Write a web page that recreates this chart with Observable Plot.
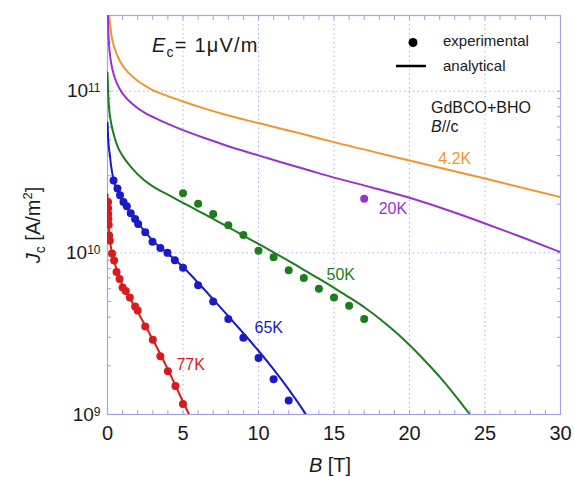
<!DOCTYPE html>
<html><head><meta charset="utf-8">
<script src="https://cdn.jsdelivr.net/npm/d3@7"></script>
<script src="https://cdn.jsdelivr.net/npm/@observablehq/plot@0.6"></script>
<style>body{margin:0;background:#fff} svg{display:block}</style>
</head><body><div id="chart"></div>
<script>
const temps = ["4.2K", "20K", "50K", "65K", "77K"];
const colors = ["#f5942a", "#9a32d2", "#1d7d1d", "#1a1ac8", "#d81c1c"];

// analytical curves (B in T, Jc in A/m^2)
const fitB_4K2 = [0, 0.1, 0.26, 0.48, 0.8, 1.15, 1.6, 2.03, 2.5, 3.13, 4, 5, 6.44, 8, 10, 13, 15, 20, 25, 30];
const fitJ_4K2 = [3.3e11, 2.98e11, 2.22e11, 1.83e11, 1.55e11, 1.38e11, 1.245e11, 1.153e11, 1.08e11, 1.0e11, 9.33e10, 8.63e10, 7.80e10, 7.08e10, 6.35e10, 5.41e10, 4.84e10, 3.73e10, 2.88e10, 2.21e10];
const fitB_20K = [0, 0.03, 0.07, 0.15, 0.26, 0.48, 0.8, 1.15, 1.6, 2.03, 2.5, 3.13, 4, 5, 6.44, 8, 10, 12, 13, 15, 17.5, 20, 22.5, 25, 27.5, 30];
const fitJ_20K = [3.1e11, 2.85e11, 2.18e11, 1.73e11, 1.46e11, 1.211e11, 1.035e11, 9.29e10, 8.41e10, 7.82e10, 7.33e10, 6.84e10, 6.28e10, 5.75e10, 5.13e10, 4.57e10, 4.01e10, 3.52e10, 3.31e10, 2.92e10, 2.54e10, 2.19e10, 1.84e10, 1.52e10, 1.245e10, 1.01e10];
const fitB_50K = [0, 0.05, 0.1, 0.15, 0.26, 0.45, 0.7, 1.0, 1.59, 2.3, 3.13, 4, 5, 6, 7, 8, 9, 10, 11, 12, 13, 14, 15, 16, 17, 18, 19, 20, 21, 22, 23, 24];
const fitJ_50K = [1.30e11, 9.55e10, 7.94e10, 7.18e10, 6.22e10, 5.25e10, 4.47e10, 3.98e10, 3.37e10, 2.88e10, 2.53e10, 2.29e10, 2.04e10, 1.82e10, 1.62e10, 1.445e10, 1.28e10, 1.135e10, 1.007e10, 8.91e9, 7.85e9, 6.92e9, 6.07e9, 5.31e9, 4.61e9, 3.93e9, 3.28e9, 2.69e9, 2.16e9, 1.71e9, 1.32e9, 1.0e9];
const fitB_65K = [0, 0.05, 0.1, 0.15, 0.25, 0.37, 0.6, 0.93, 1.3, 1.8, 2.5, 3, 4, 5, 6, 7, 8, 9, 10, 11, 12, 13, 13.15];
const fitJ_65K = [6.38e10, 5.01e10, 4.42e10, 4.07e10, 3.39e10, 2.92e10, 2.48e10, 2.14e10, 1.88e10, 1.62e10, 1.35e10, 1.19e10, 9.89e9, 8.17e9, 6.53e9, 5.16e9, 4.06e9, 3.18e9, 2.48e9, 1.90e9, 1.43e9, 1.05e9, 1.0e9];
const fitB_77K = [0, 0.03, 0.06, 0.1, 0.2, 0.3, 0.4, 0.7, 1.0, 1.5, 2, 2.5, 3, 3.5, 4, 4.5, 5, 5.4];
const fitJ_77K = [2.3e10, 1.9e10, 1.6e10, 1.35e10, 1.12e10, 1.0e10, 9.2e9, 7.4e9, 6.3e9, 5.2e9, 4.3e9, 3.55e9, 2.9e9, 2.36e9, 1.9e9, 1.51e9, 1.2e9, 1.0e9];

// experimental points
const expB_20K = [17];
const expJ_20K = [2.16e10];
const expB_50K = [5, 6, 7, 8, 9, 10, 11, 12, 13, 14, 15, 16, 17];
const expJ_50K = [2.34e10, 2.01e10, 1.74e10, 1.48e10, 1.29e10, 1.03e10, 9.4e9, 7.8e9, 7.0e9, 6.0e9, 5.3e9, 4.7e9, 3.9e9];
const expB_65K = [0.4, 0.66, 0.83, 1.06, 1.28, 1.54, 1.83, 2.03, 2.5, 2.98, 3.5, 3.97, 4.46, 5.0, 6, 7, 8, 9, 10, 11, 12];
const expJ_65K = [2.8e10, 2.5e10, 2.27e10, 2.06e10, 1.94e10, 1.76e10, 1.62e10, 1.51e10, 1.34e10, 1.17e10, 1.07e10, 1.0e10, 9.0e9, 8.1e9, 6.3e9, 5.0e9, 3.9e9, 2.98e9, 2.24e9, 1.65e9, 1.22e9];
const expB_77K = [0.04, 0.04, 0.05, 0.06, 0.08, 0.11, 0.15, 0.3, 0.44, 0.6, 0.8, 1.0, 1.21, 1.48, 1.83, 2.0, 2.5, 3.0, 3.5, 4.0, 4.5, 5.0];
const expJ_77K = [2.06e10, 1.89e10, 1.74e10, 1.62e10, 1.49e10, 1.28e10, 1.19e10, 9.9e9, 8.96e9, 7.6e9, 6.9e9, 6.1e9, 5.8e9, 5.3e9, 4.65e9, 4.4e9, 3.5e9, 2.9e9, 2.29e9, 1.85e9, 1.5e9, 1.16e9];

const xMajor = [0, 5, 10, 15, 20, 25, 30];
const yMajor = [1e9, 1e10, 1e11];

const fitSets = [[fitB_4K2, fitJ_4K2], [fitB_20K, fitJ_20K], [fitB_50K, fitJ_50K], [fitB_65K, fitJ_65K], [fitB_77K, fitJ_77K]];
const fits = fitSets.flatMap(([bs, js], i) => bs.map((b, k) => ({T: temps[i], B: b, J: js[k]})));
const expSets = [[1, expB_20K, expJ_20K], [2, expB_50K, expJ_50K], [3, expB_65K, expJ_65K], [4, expB_77K, expJ_77K]];
const exps = expSets.flatMap(([i, bs, js]) => bs.map((b, k) => ({T: temps[i], B: b, J: js[k]})));

const curveLabels = [
  {T: "4.2K", B: 23.0, J: 3.84e10},
  {T: "20K", B: 18.9, J: 1.87e10},
  {T: "50K", B: 15.45, J: 7.26e9},
  {T: "65K", B: 10.68, J: 3.43e9},
  {T: "77K", B: 5.51, J: 2.04e9}
];

const xMinor = d3.range(0, 31);
const yMinor = [];
for (const e of [9, 10, 11]) for (let m = 1; m <= 9; m++) { const v = m * 10 ** e; if (v <= 2.94e11) yMinor.push(v); }

const FONT = "Liberation Sans, Arial, Helvetica, sans-serif";
const AX = "#a3a3e6";
const GRID = "#b0b0ee";

const chart = Plot.plot({
  width: 574, height: 477,
  marginLeft: 107, marginRight: 14, marginTop: 15, marginBottom: 63,
  style: {fontFamily: FONT, color: "#1a1a1a", background: "#fff"},
  x: {domain: [0, 30], label: null},
  y: {type: "log", domain: [1e9, 2.94e11], label: null},
  color: {domain: temps, range: colors},
  marks: [
    Plot.gridX([5, 10, 15, 20, 25], {stroke: GRID, strokeOpacity: 1, strokeDasharray: "1.5,3"}),
    Plot.gridY([1e10, 1e11], {stroke: GRID, strokeOpacity: 1, strokeDasharray: "1.5,3"}),
    Plot.axisX(xMinor, {anchor: "bottom", tickSize: -4, tickFormat: () => "", stroke: AX, label: null}),
    Plot.axisX(xMinor, {anchor: "top", tickSize: -4, tickFormat: () => "", stroke: AX, label: null}),
    Plot.axisY(yMinor, {anchor: "left", tickSize: -4, tickFormat: () => "", stroke: AX, label: null}),
    Plot.axisY(yMinor, {anchor: "right", tickSize: -4, tickFormat: () => "", stroke: AX, label: null}),
    Plot.axisX(xMajor, {anchor: "bottom", tickSize: 0, tickPadding: 11, fontSize: 20, label: null}),
    Plot.axisY(yMajor, {anchor: "left", tickSize: 0, tickPadding: 7, fontSize: 19, label: null,
      tickFormat: d => "10^" + Math.round(Math.log10(d))}),
    Plot.frame({stroke: AX, strokeWidth: 1.2}),
    Plot.line(fits, {x: "B", y: "J", z: "T", stroke: "T", strokeWidth: 2, clip: true, curve: "monotone-x"}),
    Plot.dot(exps, {x: "B", y: "J", fill: "T", r: 4, clip: true}),
    Plot.text(curveLabels, {x: "B", y: "J", text: "T", fill: "T", fontSize: 16})
  ]
});

const svg = d3.select(chart);
// superscript exponents on y tick labels
svg.selectAll('g[aria-label="y-axis tick label"] text').each(function () {
  const t = d3.select(this);
  const s = t.text();
  if (s.startsWith("10^")) {
    const e = s.slice(3);
    t.text("10");
    t.append("tspan").attr("dy", "-0.4em").attr("font-size", "12px").text(e);
  }
});

const ann = svg.append("g").attr("font-family", FONT).attr("fill", "#1a1a1a").attr("text-anchor", "start");
// E_c label
const ec = ann.append("text").attr("x", 152).attr("y", 52).attr("font-size", 20).attr("letter-spacing", 1.2);
ec.append("tspan").attr("font-style", "italic").text("E");
ec.append("tspan").attr("font-size", 14).attr("dy", 5).text("c");
ec.append("tspan").attr("dy", -5).text("= 1\u03bcV/m");

// legend
ann.append("circle").attr("cx", 413).attr("cy", 42.5).attr("r", 4.5).attr("fill", "#000");
ann.append("line").attr("x1", 396).attr("x2", 426).attr("y1", 66).attr("y2", 66).attr("stroke", "#000").attr("stroke-width", 2.5);
ann.append("text").attr("x", 443).attr("y", 46).attr("font-size", 15).text("experimental");
ann.append("text").attr("x", 443).attr("y", 71).attr("font-size", 15).text("analytical");

// sample
ann.append("text").attr("x", 431).attr("y", 112.5).attr("font-size", 16).text("GdBCO+BHO");
const bc = ann.append("text").attr("x", 431).attr("y", 132).attr("font-size", 16);
bc.append("tspan").attr("font-style", "italic").text("B");
bc.append("tspan").text("//c");

// axis titles
const xl = ann.append("text").attr("x", 330).attr("y", 472).attr("text-anchor", "middle").attr("font-size", 20);
xl.append("tspan").attr("font-style", "italic").text("B");
xl.append("tspan").text(" [T]");

const yl = ann.append("text").attr("transform", "translate(40,225) rotate(-90)").attr("text-anchor", "middle").attr("font-size", 20);
yl.append("tspan").attr("font-style", "italic").text("J");
yl.append("tspan").attr("font-size", 14).attr("dy", 5).text("c");
yl.append("tspan").attr("dy", -5).text(" [A/m");
yl.append("tspan").attr("font-size", 13).attr("dy", -8).text("2");
yl.append("tspan").attr("dy", 8).text("]");

document.getElementById("chart").appendChild(chart);
</script>
</body></html>
